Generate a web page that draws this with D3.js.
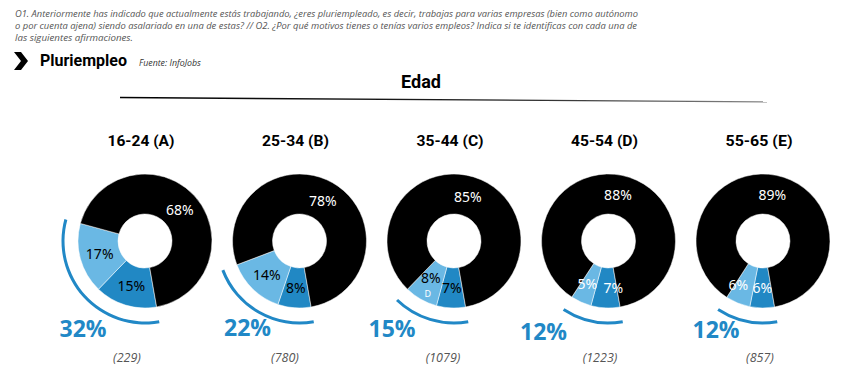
<!DOCTYPE html>
<html>
<head>
<meta charset="utf-8">
<script src="https://cdn.jsdelivr.net/npm/d3@7"></script>
<style>
  html, body { margin: 0; padding: 0; background: #fff; }
  svg { display: block; }
</style>
</head>
<body>
<div id="chart"></div>
<script>
// ---- data ----
const categories = ["16-24 (A)", "25-34 (B)", "35-44 (C)", "45-54 (D)", "55-65 (E)"];
const midBlue   = [15, 8, 7, 7, 6];
const lightBlue = [17, 14, 8, 5, 6];
const blackPart = [68, 78, 85, 88, 89];
const totals    = [32, 22, 15, 12, 12];
const counts    = ["(229)", "(780)", "(1079)", "(1223)", "(857)"];
const sigLetters = ["", "", "D", "", ""];
const headerLines = [
  "O1. Anteriormente has indicado que actualmente estás trabajando, ¿eres pluriempleado, es decir, trabajas para varias empresas (bien como autónomo",
  "o por cuenta ajena) siendo asalariado en una de estas?  // O2. ¿Por qué motivos tienes o tenías varios empleos? Indica si te identificas con cada una de",
  "las siguientes afirmaciones."
];

// ---- layout ----
const W = 847, H = 373;
const C_MID = "#2188c4", C_LIGHT = "#6ab8e4", C_BLACK = "#000000", C_BIG = "#2188c6";
const bigDx = [-62, -52, -62, -65, -47];
const bigY  = [337, 336, 337, 340, 338];
const countX = [127, 285, 443, 600, 760];
const labelColor = ["#000", "#000", "#000", "#fff", "#fff"];
const labelNudge = [[0,0,0],[0,0,0],[0,0,0],[7,-2,0],[0,-7,0]];

const svg = d3.select("#chart").append("svg").attr("width", W).attr("height", H);

// header
const hdr = svg.append("g").attr("font-family", "'Open Sans', sans-serif")
  .attr("font-style", "italic").attr("font-size", 9.8).attr("fill", "#555");
const hdrLens = [623, 622, 118];
headerLines.forEach((t, i) => {
  hdr.append("text").attr("x", 15).attr("y", 17 + i * 11.9).text(t)
    .attr("textLength", hdrLens[i]).attr("lengthAdjust", "spacingAndGlyphs");
});

// chevron
svg.append("path").attr("d", "M14,52 L21,52 L28,61 L21,70 L14,70 L21,61 Z").attr("fill", "#000");
svg.append("text").attr("x", 40).attr("y", 66).attr("font-family", "Roboto, sans-serif")
  .attr("font-weight", 700).attr("font-size", 16).attr("fill", "#000").text("Pluriempleo");
svg.append("text").attr("x", 139).attr("y", 66).attr("font-family", "'Open Sans', sans-serif")
  .attr("font-style", "italic").attr("font-size", 8.8).attr("fill", "#333").text("Fuente: InfoJobs");

// Edad + line
svg.append("text").attr("x", 421).attr("y", 88).attr("text-anchor", "middle")
  .attr("font-family", "Roboto, sans-serif").attr("font-weight", 700).attr("font-size", 18)
  .attr("fill", "#000").text("Edad");
const grad = svg.append("defs").append("linearGradient").attr("id", "lg")
  .attr("x1", "0%").attr("x2", "100%").attr("y1", "0%").attr("y2", "0%");
grad.append("stop").attr("offset", "0%").attr("stop-color", "#000");
grad.append("stop").attr("offset", "60%").attr("stop-color", "#222");
grad.append("stop").attr("offset", "100%").attr("stop-color", "#888");
svg.append("path").attr("d", "M120,96.8 L767,101.3 L767,102.5 L120,98.3 Z").attr("fill", "url(#lg)");

// scales
const x = d3.scalePoint().domain(categories).range([145, 763]);
const cy = 241;
const rOuter = 67, rInner = 27;
const start = 170 * Math.PI / 180;
const pie = d3.pie().sort(null).value(d => d.v).startAngle(start).endAngle(start + 2 * Math.PI);
const arc = d3.arc().innerRadius(rInner).outerRadius(rOuter);
const ringArc = d3.arc().innerRadius(80.5).outerRadius(83.5);

categories.forEach((cat, i) => {
  const cx = x(cat);
  const g = svg.append("g").attr("transform", `translate(${cx},${cy})`);
  const parts = [
    { v: midBlue[i], c: C_MID, lc: labelColor[i] },
    { v: lightBlue[i], c: C_LIGHT, lc: labelColor[i] },
    { v: blackPart[i], c: C_BLACK, lc: "#fff" }
  ];
  const arcs = pie(parts);
  g.selectAll("path.slice").data(arcs).join("path").attr("class", "slice")
    .attr("d", arc).attr("fill", d => d.data.c).attr("stroke", "#fff").attr("stroke-width", 0.5);
  g.selectAll("text.lab").data(arcs).join("text").attr("class", "lab")
    .attr("transform", (d, j) => {
      const [px, py] = arc.centroid(d);
      const dy = (sigLetters[i] && j === 1) ? -4 : 0;
      return `translate(${px + labelNudge[i][j]},${py + dy})`;
    })
    .attr("text-anchor", "middle").attr("dominant-baseline", "central")
    .attr("font-family", "'Noto Sans', sans-serif").attr("font-size", 14)
    .attr("fill", d => d.data.lc).text(d => d.data.v + "%");
  if (sigLetters[i]) {
    const [px, py] = arc.centroid(arcs[1]);
    g.append("text").attr("x", px - 3).attr("y", py + 12).attr("text-anchor", "middle")
      .attr("dominant-baseline", "central").attr("font-family", "'Noto Sans', sans-serif")
      .attr("font-size", 9).attr("fill", "#fff").text(sigLetters[i]);
  }
  // outer ring arc spanning blue share
  const a0 = start, a1 = start + totals[i] / 100 * 2 * Math.PI;
  g.append("path").attr("d", ringArc({ startAngle: a0, endAngle: a1 })).attr("fill", C_BIG);

  // title
  svg.append("text").attr("x", cx - 4).attr("y", 146).attr("text-anchor", "middle")
    .attr("font-family", "Roboto, sans-serif").attr("font-weight", 700).attr("font-size", 15)
    .attr("textLength", 67).attr("lengthAdjust", "spacingAndGlyphs")
    .attr("fill", "#000").text(cat);
  // big total
  svg.append("text").attr("x", cx + bigDx[i]).attr("y", bigY[i]).attr("text-anchor", "middle")
    .attr("font-family", "'Open Sans', sans-serif").attr("font-weight", 700).attr("font-size", 23)
    .attr("fill", C_BIG).text(totals[i] + "%");
  // count
  svg.append("text").attr("x", countX[i]).attr("y", 362).attr("text-anchor", "middle")
    .attr("font-family", "'Open Sans', sans-serif").attr("font-style", "italic").attr("font-size", 12.5)
    .attr("fill", "#555").text(counts[i]);
});
</script>
</body>
</html>
